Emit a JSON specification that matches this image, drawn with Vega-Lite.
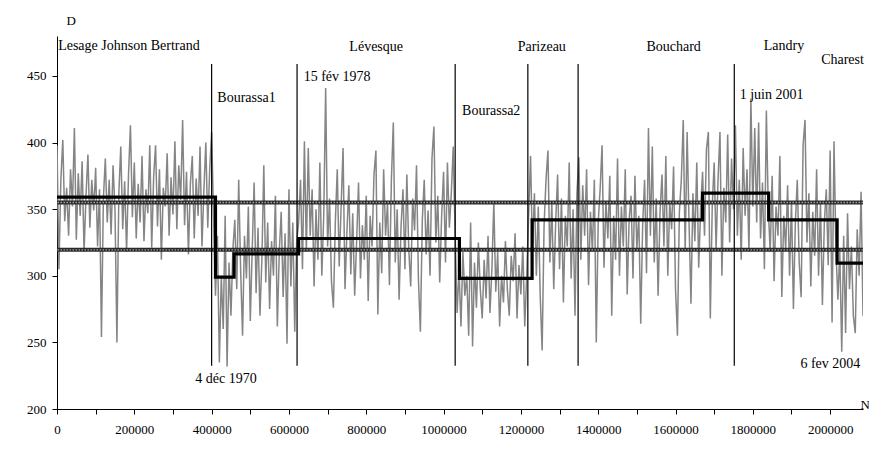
{
  "$schema": "https://vega.github.io/schema/vega-lite/v6.json",
  "width": 806,
  "height": 373,
  "autosize": "none",
  "padding": {"left": 57, "top": 36, "right": 6, "bottom": 44},
  "background": "white",
  "config": {
    "view": {"stroke": null},
    "font": "'Liberation Serif', 'Times New Roman', serif",
    "text": {"font": "'Liberation Serif', 'Times New Roman', serif"},
    "axis": {"grid": false, "domainColor": "black", "tickColor": "black", "labelColor": "black", "labelFont": "'Liberation Serif', 'Times New Roman', serif", "labelFontSize": 13, "titleFont": "'Liberation Serif', 'Times New Roman', serif", "titleFontWeight": "normal", "titleFontSize": 13, "titleColor": "black", "tickSize": 5, "domainWidth": 1, "tickWidth": 1}
  },
  "datasets": {
    "series": [
      {"n":0,"d":398},{"n":5000,"d":305},{"n":10000,"d":372},{"n":15000,"d":402},{"n":20000,"d":341},{"n":25000,"d":366},{"n":30000,"d":330},{"n":35000,"d":380},{"n":40000,"d":352},{"n":45000,"d":411},
      {"n":50000,"d":327},{"n":55000,"d":377},{"n":60000,"d":345},{"n":65000,"d":386},{"n":70000,"d":318},{"n":75000,"d":360},{"n":80000,"d":391},{"n":85000,"d":336},{"n":90000,"d":372},{"n":95000,"d":349},
      {"n":100000,"d":381},{"n":105000,"d":322},{"n":110000,"d":365},{"n":115000,"d":254},{"n":120000,"d":358},{"n":125000,"d":388},{"n":130000,"d":340},{"n":135000,"d":372},{"n":140000,"d":331},{"n":145000,"d":383},
      {"n":150000,"d":350},{"n":155000,"d":250},{"n":160000,"d":362},{"n":165000,"d":397},{"n":170000,"d":335},{"n":175000,"d":371},{"n":180000,"d":318},{"n":185000,"d":376},{"n":190000,"d":413},{"n":195000,"d":344},
      {"n":200000,"d":385},{"n":205000,"d":328},{"n":210000,"d":369},{"n":215000,"d":340},{"n":220000,"d":390},{"n":225000,"d":326},{"n":230000,"d":365},{"n":235000,"d":347},{"n":240000,"d":398},{"n":245000,"d":321},
      {"n":250000,"d":374},{"n":255000,"d":398},{"n":260000,"d":337},{"n":265000,"d":380},{"n":270000,"d":312},{"n":275000,"d":366},{"n":280000,"d":352},{"n":285000,"d":392},{"n":290000,"d":330},{"n":295000,"d":374},
      {"n":300000,"d":346},{"n":305000,"d":401},{"n":310000,"d":335},{"n":315000,"d":383},{"n":320000,"d":357},{"n":325000,"d":417},{"n":330000,"d":338},{"n":335000,"d":378},{"n":340000,"d":316},{"n":345000,"d":369},
      {"n":350000,"d":390},{"n":355000,"d":328},{"n":360000,"d":373},{"n":365000,"d":345},{"n":370000,"d":397},{"n":375000,"d":322},{"n":380000,"d":364},{"n":385000,"d":400},{"n":390000,"d":336},{"n":395000,"d":380},
      {"n":400000,"d":408},{"n":405000,"d":345},{"n":410000,"d":285},{"n":415000,"d":330},{"n":420000,"d":235},{"n":425000,"d":300},{"n":430000,"d":260},{"n":435000,"d":345},{"n":440000,"d":232},{"n":445000,"d":310},
      {"n":450000,"d":270},{"n":455000,"d":320},{"n":460000,"d":342},{"n":465000,"d":290},{"n":470000,"d":372},{"n":475000,"d":305},{"n":480000,"d":255},{"n":485000,"d":330},{"n":490000,"d":298},{"n":495000,"d":352},
      {"n":500000,"d":266},{"n":505000,"d":320},{"n":510000,"d":370},{"n":515000,"d":287},{"n":520000,"d":336},{"n":525000,"d":270},{"n":530000,"d":312},{"n":535000,"d":383},{"n":540000,"d":295},{"n":545000,"d":340},
      {"n":550000,"d":275},{"n":555000,"d":326},{"n":560000,"d":300},{"n":565000,"d":360},{"n":570000,"d":262},{"n":575000,"d":318},{"n":580000,"d":348},{"n":585000,"d":284},{"n":590000,"d":332},{"n":595000,"d":249},
      {"n":600000,"d":365},{"n":605000,"d":292},{"n":610000,"d":340},{"n":615000,"d":258},{"n":620000,"d":325},{"n":625000,"d":340},{"n":630000,"d":372},{"n":635000,"d":305},{"n":640000,"d":401},{"n":645000,"d":318},
      {"n":650000,"d":396},{"n":655000,"d":330},{"n":660000,"d":365},{"n":665000,"d":292},{"n":670000,"d":350},{"n":675000,"d":312},{"n":680000,"d":385},{"n":685000,"d":300},{"n":690000,"d":345},{"n":695000,"d":441},
      {"n":700000,"d":322},{"n":705000,"d":358},{"n":710000,"d":296},{"n":715000,"d":276},{"n":720000,"d":340},{"n":725000,"d":380},{"n":730000,"d":307},{"n":735000,"d":352},{"n":740000,"d":396},{"n":745000,"d":290},
      {"n":750000,"d":333},{"n":755000,"d":368},{"n":760000,"d":301},{"n":765000,"d":347},{"n":770000,"d":285},{"n":775000,"d":325},{"n":780000,"d":370},{"n":785000,"d":298},{"n":790000,"d":338},{"n":795000,"d":312},
      {"n":800000,"d":360},{"n":805000,"d":281},{"n":810000,"d":345},{"n":815000,"d":322},{"n":820000,"d":376},{"n":825000,"d":394},{"n":830000,"d":271},{"n":835000,"d":340},{"n":840000,"d":302},{"n":845000,"d":380},
      {"n":850000,"d":330},{"n":855000,"d":355},{"n":860000,"d":293},{"n":865000,"d":372},{"n":870000,"d":415},{"n":875000,"d":310},{"n":880000,"d":350},{"n":885000,"d":282},{"n":890000,"d":337},{"n":895000,"d":365},
      {"n":900000,"d":305},{"n":905000,"d":376},{"n":910000,"d":320},{"n":915000,"d":292},{"n":920000,"d":358},{"n":925000,"d":334},{"n":930000,"d":383},{"n":935000,"d":297},{"n":940000,"d":258},{"n":945000,"d":342},
      {"n":950000,"d":372},{"n":955000,"d":316},{"n":960000,"d":349},{"n":965000,"d":300},{"n":970000,"d":388},{"n":975000,"d":412},{"n":980000,"d":325},{"n":985000,"d":360},{"n":990000,"d":295},{"n":995000,"d":345},
      {"n":1000000,"d":378},{"n":1005000,"d":310},{"n":1010000,"d":385},{"n":1015000,"d":336},{"n":1020000,"d":362},{"n":1025000,"d":397},{"n":1030000,"d":330},{"n":1035000,"d":272},{"n":1040000,"d":305},{"n":1045000,"d":262},
      {"n":1050000,"d":318},{"n":1055000,"d":285},{"n":1060000,"d":300},{"n":1065000,"d":255},{"n":1070000,"d":340},{"n":1075000,"d":247},{"n":1080000,"d":310},{"n":1085000,"d":276},{"n":1090000,"d":325},{"n":1095000,"d":290},
      {"n":1100000,"d":268},{"n":1105000,"d":312},{"n":1110000,"d":283},{"n":1115000,"d":330},{"n":1120000,"d":272},{"n":1125000,"d":305},{"n":1130000,"d":355},{"n":1135000,"d":288},{"n":1140000,"d":318},{"n":1145000,"d":262},
      {"n":1150000,"d":300},{"n":1155000,"d":280},{"n":1160000,"d":326},{"n":1165000,"d":290},{"n":1170000,"d":270},{"n":1175000,"d":315},{"n":1180000,"d":296},{"n":1185000,"d":332},{"n":1190000,"d":268},{"n":1195000,"d":308},
      {"n":1200000,"d":286},{"n":1205000,"d":322},{"n":1210000,"d":262},{"n":1215000,"d":300},{"n":1220000,"d":345},{"n":1225000,"d":390},{"n":1230000,"d":318},{"n":1235000,"d":362},{"n":1240000,"d":300},{"n":1245000,"d":352},
      {"n":1250000,"d":285},{"n":1255000,"d":244},{"n":1260000,"d":338},{"n":1265000,"d":372},{"n":1270000,"d":394},{"n":1275000,"d":310},{"n":1280000,"d":355},{"n":1285000,"d":290},{"n":1290000,"d":340},{"n":1295000,"d":376},
      {"n":1300000,"d":305},{"n":1305000,"d":358},{"n":1310000,"d":280},{"n":1315000,"d":345},{"n":1320000,"d":322},{"n":1325000,"d":385},{"n":1330000,"d":298},{"n":1335000,"d":350},{"n":1340000,"d":270},{"n":1345000,"d":362},
      {"n":1350000,"d":389},{"n":1355000,"d":312},{"n":1360000,"d":368},{"n":1365000,"d":330},{"n":1370000,"d":380},{"n":1375000,"d":293},{"n":1380000,"d":348},{"n":1385000,"d":318},{"n":1390000,"d":372},{"n":1395000,"d":250},
      {"n":1400000,"d":340},{"n":1405000,"d":365},{"n":1410000,"d":398},{"n":1415000,"d":306},{"n":1420000,"d":356},{"n":1425000,"d":328},{"n":1430000,"d":375},{"n":1435000,"d":270},{"n":1440000,"d":345},{"n":1445000,"d":312},
      {"n":1450000,"d":388},{"n":1455000,"d":300},{"n":1460000,"d":352},{"n":1465000,"d":322},{"n":1470000,"d":380},{"n":1475000,"d":286},{"n":1480000,"d":342},{"n":1485000,"d":360},{"n":1490000,"d":298},{"n":1495000,"d":375},
      {"n":1500000,"d":320},{"n":1505000,"d":345},{"n":1510000,"d":264},{"n":1515000,"d":338},{"n":1520000,"d":372},{"n":1525000,"d":302},{"n":1530000,"d":411},{"n":1535000,"d":330},{"n":1540000,"d":397},{"n":1545000,"d":310},
      {"n":1550000,"d":358},{"n":1555000,"d":285},{"n":1560000,"d":348},{"n":1565000,"d":376},{"n":1570000,"d":322},{"n":1575000,"d":390},{"n":1580000,"d":300},{"n":1585000,"d":355},{"n":1590000,"d":335},{"n":1595000,"d":382},
      {"n":1600000,"d":290},{"n":1605000,"d":255},{"n":1610000,"d":348},{"n":1615000,"d":372},{"n":1620000,"d":417},{"n":1625000,"d":318},{"n":1630000,"d":408},{"n":1635000,"d":340},{"n":1640000,"d":279},{"n":1645000,"d":362},
      {"n":1650000,"d":326},{"n":1655000,"d":385},{"n":1660000,"d":306},{"n":1665000,"d":350},{"n":1670000,"d":378},{"n":1675000,"d":330},{"n":1680000,"d":395},{"n":1685000,"d":408},{"n":1690000,"d":268},{"n":1695000,"d":352},
      {"n":1700000,"d":385},{"n":1705000,"d":320},{"n":1710000,"d":372},{"n":1715000,"d":408},{"n":1720000,"d":300},{"n":1725000,"d":366},{"n":1730000,"d":340},{"n":1735000,"d":406},{"n":1740000,"d":325},{"n":1745000,"d":388},
      {"n":1750000,"d":350},{"n":1755000,"d":413},{"n":1760000,"d":330},{"n":1765000,"d":372},{"n":1770000,"d":312},{"n":1775000,"d":396},{"n":1780000,"d":345},{"n":1785000,"d":380},{"n":1790000,"d":318},{"n":1795000,"d":433},
      {"n":1800000,"d":352},{"n":1805000,"d":411},{"n":1810000,"d":340},{"n":1815000,"d":415},{"n":1820000,"d":328},{"n":1825000,"d":370},{"n":1830000,"d":305},{"n":1835000,"d":424},{"n":1840000,"d":350},{"n":1845000,"d":318},
      {"n":1850000,"d":375},{"n":1855000,"d":296},{"n":1860000,"d":352},{"n":1865000,"d":330},{"n":1870000,"d":390},{"n":1875000,"d":284},{"n":1880000,"d":345},{"n":1885000,"d":320},{"n":1890000,"d":368},{"n":1895000,"d":300},
      {"n":1900000,"d":356},{"n":1905000,"d":275},{"n":1910000,"d":340},{"n":1915000,"d":372},{"n":1920000,"d":310},{"n":1925000,"d":284},{"n":1930000,"d":398},{"n":1935000,"d":417},{"n":1940000,"d":325},{"n":1945000,"d":362},
      {"n":1950000,"d":292},{"n":1955000,"d":348},{"n":1960000,"d":315},{"n":1965000,"d":380},{"n":1970000,"d":300},{"n":1975000,"d":355},{"n":1980000,"d":278},{"n":1985000,"d":340},{"n":1990000,"d":365},{"n":1995000,"d":308},
      {"n":2000000,"d":394},{"n":2005000,"d":265},{"n":2010000,"d":401},{"n":2015000,"d":320},{"n":2020000,"d":282},{"n":2025000,"d":318},{"n":2030000,"d":243},{"n":2035000,"d":330},{"n":2040000,"d":257},{"n":2045000,"d":347},
      {"n":2050000,"d":290},{"n":2055000,"d":322},{"n":2060000,"d":270},{"n":2065000,"d":257},{"n":2070000,"d":335},{"n":2075000,"d":300},{"n":2080000,"d":363},{"n":2085000,"d":270}
    ],
    "steps": [
      {"n":0,"d":359},{"n":410000,"d":299},{"n":458000,"d":316.5},{"n":625000,"d":328},{"n":1041000,"d":298},{"n":1229000,"d":342},{"n":1670000,"d":362},{"n":1841000,"d":342},{"n":2018000,"d":309.5},{"n":2085000,"d":309.5}
    ],
    "bands": [{"d":355},{"d":319.5}],
    "breaks": [{"n":400000},{"n":621000},{"n":1030000},{"n":1218000},{"n":1348000},{"n":1752000}],
    "labels": [
      {"n":3000,"d":469.5,"label":"Lesage Johnson Bertrand"},
      {"n":414700,"d":430.5,"label":"Bourassa1"},
      {"n":756300,"d":469,"label":"Lévesque"},
      {"n":638000,"d":446,"label":"15 fév 1978"},
      {"n":1047800,"d":420.7,"label":"Bourassa2"},
      {"n":1191700,"d":469,"label":"Parizeau"},
      {"n":1524700,"d":469,"label":"Bouchard"},
      {"n":1828200,"d":469.5,"label":"Landry"},
      {"n":1976700,"d":459,"label":"Charest"},
      {"n":1766100,"d":432.7,"label":"1 juin 2001"},
      {"n":357800,"d":219.5,"label":"4 déc 1970"},
      {"n":1923000,"d":230.8,"label":"6 fev 2004"}
    ]
  },
  "layer": [
    {
      "data": {"name": "series"},
      "mark": {"type": "line", "color": "#858585", "strokeWidth": 1.5, "clip": true},
      "encoding": {
        "x": {"field": "n", "type": "quantitative", "scale": {"domain": [0, 2085000], "nice": false, "zero": false},
          "axis": {"values": [0,50000,100000,150000,200000,250000,300000,350000,400000,450000,500000,550000,600000,650000,700000,750000,800000,850000,900000,950000,1000000,1050000,1100000,1150000,1200000,1250000,1300000,1350000,1400000,1450000,1500000,1550000,1600000,1650000,1700000,1750000,1800000,1850000,1900000,1950000,2000000,2050000],
            "labelExpr": "datum.value % 200000 === 0 ? format(datum.value, 'd') : ''", "labelPadding": 9, "labelOverlap": false, "labelFlush": false,
            "title": "N", "titleX": 803, "titleY": -1, "titleAlign": "left", "titleBaseline": "alphabetic", "titleAngle": 0}},
        "y": {"field": "d", "type": "quantitative", "scale": {"domain": [200, 480], "nice": false, "zero": false},
          "axis": {"values": [200,250,300,350,400,450], "labelPadding": 6, "title": "D", "titleAngle": 0, "titleX": 9, "titleY": -12, "titleAlign": "left", "titleBaseline": "alphabetic"}}
      }
    },
    {
      "data": {"name": "bands"},
      "mark": {"type": "rule", "color": "#2a2a2a", "strokeWidth": 4},
      "encoding": {"y": {"field": "d", "type": "quantitative"}}
    },
    {
      "data": {"name": "bands"},
      "mark": {"type": "rule", "color": "#a0a0a0", "strokeWidth": 1.3, "strokeDash": [1.5, 1.5]},
      "encoding": {"y": {"field": "d", "type": "quantitative"}}
    },
    {
      "data": {"name": "breaks"},
      "mark": {"type": "rule", "color": "black", "strokeWidth": 1.2},
      "encoding": {"x": {"field": "n", "type": "quantitative"}, "y": {"datum": 232.5}, "y2": {"datum": 459}}
    },
    {
      "data": {"name": "steps"},
      "mark": {"type": "line", "color": "black", "strokeWidth": 3.2, "interpolate": "step-after"},
      "encoding": {"x": {"field": "n", "type": "quantitative"}, "y": {"field": "d", "type": "quantitative"}}
    },
    {
      "data": {"name": "labels"},
      "mark": {"type": "text", "align": "left", "baseline": "alphabetic", "fontSize": 14, "color": "black"},
      "encoding": {"x": {"field": "n", "type": "quantitative"}, "y": {"field": "d", "type": "quantitative"}, "text": {"field": "label"}}
    }
  ]
}
